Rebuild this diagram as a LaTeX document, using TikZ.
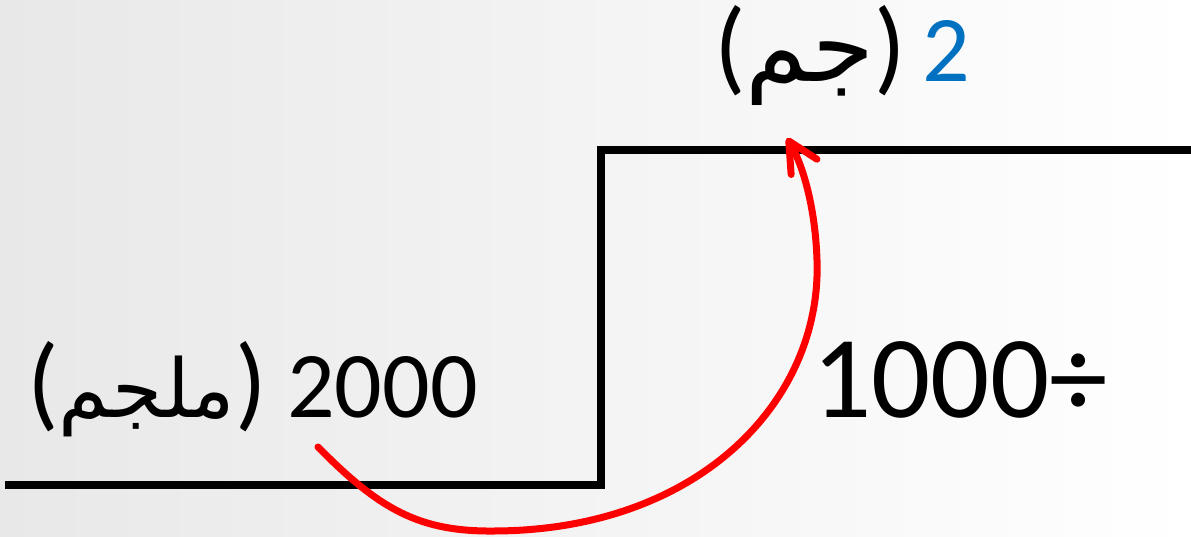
\documentclass[tikz,border=0pt]{standalone}
\usepackage{fontspec}
\usepackage{tikz}
\usepackage{xcolor}
\usetikzlibrary{positioning, arrows.meta}
\setmainfont{Carlito}
\newfontfamily\arabicfont[Script=Arabic]{DejaVu Sans}
\TeXXeTstate=1
\definecolor{unitblue}{RGB}{0,112,192}
\definecolor{arrowred}{RGB}{255,0,0}

\begin{document}
\begin{tikzpicture}[
    x=1pt, y=1pt,
    numtext/.style={inner sep=0pt, font=\fontsize{94}{94}\selectfont},
    bignum/.style={inner sep=0pt, font=\fontsize{117}{117}\selectfont},
    unittext/.style={inner sep=0pt, font=\fontsize{104}{104}\selectfont},
    stepline/.style={line width=8pt, line join=miter},
    arrow/.style={-{Straight Barb[length=30pt, width=30pt, round]}, line width=7pt, draw=arrowred, line cap=round}
]

% ========== FONDO ==========
\shade[left color=black!9, right color=white] (0,0) rectangle (1191,537);
\useasboundingbox (0,0) rectangle (1191,537);

% ========== ESCALON ==========
\draw[stepline] (5,52) -- (601,52) -- (601,386.5) -- (1191,386.5);

% ========== ABAJO: MILIGRAMOS ==========
\node[numtext, anchor=base east] (mgnum) at (478,119) {2000};
\node[unittext, base left=20pt of mgnum] (mgunit) {({\fontsize{81}{81}\arabicfont\beginR ملجم\endR})};

% ========== DIVISION ==========
\node[bignum, anchor=base west] (divide) at (812,119) {1000÷};

% ========== ARRIBA: GRAMOS ==========
\node[numtext, text=unitblue, anchor=base west] (gnum) at (922,455) {2};
\node[unittext, base left=16pt of gnum] (gunit) {({\fontsize{100}{100}\arabicfont\beginR جم\endR})};

% ========== FLECHA ==========
\coordinate (from) at (318,90);
\coordinate (to) at (787,399);
\draw[arrow] (from) .. controls (380,27) and (420,5) .. (495,6)
    .. controls (700,7) and (822,137) .. (817,277)
    .. controls (815,337) and (800,377) .. (to);

\end{tikzpicture}
\end{document}
